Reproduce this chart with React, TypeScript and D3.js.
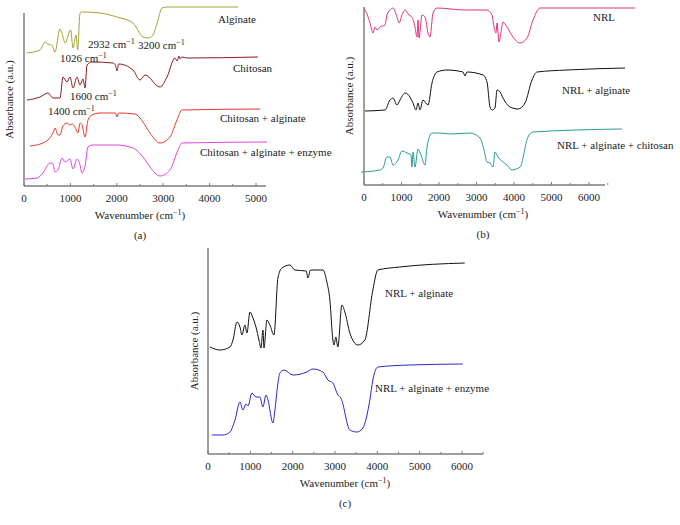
import React from "react";
import * as d3 from "d3";

type P = [number, number];

// Panel (a) spectra: [wavenumber, absorbance a.u.]
const alginate: P[] = [[58,133],[345,136],[453,144],[517,142],[597,141],[668,134],[776,157],[840,149],[884,143],[1006,156],[1056,138],[1121,151],[1157,136],[1207,173],[1271,174],[1638,173],[2004,169],[2349,163],[2564,149],[2672,148],[2780,151],[2888,166],[2974,178],[3082,179],[4612,179]];
const chitosan: P[] = [[65,86],[345,89],[517,93],[625,88],[776,88],[840,109],[927,104],[991,109],[1056,98],[1142,109],[1207,101],[1271,107],[1315,98],[1358,121],[1465,124],[1918,123],[1970,121],[2004,115],[2040,122],[2349,116],[2500,106],[2608,111],[2931,99],[3082,109],[3254,128],[3300,125],[3340,130],[3362,127],[3400,129],[3513,128],[5043,129]];
const chitosanAlginate: P[] = [[129,40],[409,43],[625,53],[668,58],[733,51],[776,51],[840,60],[927,63],[991,61],[1034,62],[1099,59],[1164,53],[1207,63],[1250,61],[1315,49],[1379,66],[1465,71],[1638,73],[1970,73],[2004,69],[2040,73],[2392,72],[2564,64],[2715,53],[2931,43],[3146,49],[3297,66],[3405,76],[5086,77]];
const chitosanAlginateEnzyme: P[] = [[22,7],[280,8],[409,13],[560,23],[625,22],[668,14],[733,16],[819,28],[884,24],[991,27],[1056,17],[1142,27],[1207,21],[1250,13],[1315,20],[1379,39],[1487,41],[2004,41],[2349,38],[2564,29],[2715,19],[2931,10],[3146,16],[3319,36],[3405,43],[5237,44]];

// Panel (b)
const nrl: P[] = [[0,177],[80,171],[160,162],[240,152],[293,158],[347,155],[427,158],[560,160],[613,170],[693,175],[773,177],[880,168],[933,162],[1013,170],[1093,175],[1200,170],[1280,168],[1360,158],[1413,148],[1440,165],[1467,147],[1547,170],[1627,168],[1707,152],[1760,148],[1840,172],[1947,177],[2693,175],[3280,175],[3413,170],[3467,158],[3520,152],[3547,162],[3600,143],[3653,153],[3707,163],[3813,158],[3973,148],[4160,142],[4347,147],[4507,165],[4693,177],[7227,177]];
const nrlAlginateB: P[] = [[27,74],[560,75],[693,85],[773,87],[880,80],[960,85],[1093,92],[1227,88],[1307,82],[1387,75],[1440,82],[1493,75],[1573,85],[1707,80],[1813,102],[1947,113],[2213,115],[2640,113],[2693,109],[2745,113],[3173,110],[3280,103],[3360,78],[3413,75],[3493,77],[3547,95],[3627,93],[3707,87],[3893,78],[4107,76],[4293,82],[4480,105],[4613,113],[5413,115],[6960,117]];
const nrlAlginateChitosan: P[] = [[-80,13],[427,15],[507,17],[613,28],[693,28],[773,20],[907,25],[1013,34],[1147,32],[1253,30],[1280,18],[1307,33],[1360,18],[1440,36],[1520,30],[1627,20],[1680,38],[1813,52],[2027,52],[2293,51],[2827,52],[3093,47],[3200,35],[3280,23],[3360,22],[3440,18],[3493,33],[3573,28],[3813,20],[3947,15],[4160,18],[4373,48],[4507,53],[6880,56]];

// Panel (c)
const nrlAlginateC: P[] = [[47,107],[283,104],[519,107],[590,114],[684,132],[755,127],[802,119],[873,129],[920,121],[991,142],[1062,136],[1133,127],[1204,114],[1251,106],[1298,124],[1322,106],[1392,134],[1463,129],[1558,119],[1652,176],[1746,186],[1935,189],[2053,184],[2320,183],[2360,176],[2420,184],[2714,184],[2808,172],[2879,154],[2950,114],[2974,109],[3021,117],[3068,107],[3162,149],[3233,142],[3351,121],[3540,109],[3705,114],[3894,164],[4012,184],[4531,187],[6065,191]];
const nrlAlginateEnzyme: P[] = [[94,19],[354,19],[519,22],[637,34],[755,52],[826,44],[897,50],[944,48],[1038,61],[1133,57],[1227,57],[1298,47],[1369,59],[1416,54],[1534,31],[1581,44],[1652,71],[1699,81],[1794,84],[2006,79],[2336,82],[2478,85],[2714,82],[2832,74],[2950,71],[3068,59],[3139,56],[3351,24],[3516,22],[3658,26],[3823,54],[3894,74],[4012,87],[4767,89],[6018,90]];

const ticksA = [0, 1000, 2000, 3000, 4000, 5000];
const ticksBC = [0, 1000, 2000, 3000, 4000, 5000, 6000];

const FONT = "'Liberation Serif', 'DejaVu Serif', serif";
const FS = 11;

type Series = { data: P[]; color: string };
type Label = { x: number; y: number; text: string; sup?: boolean };

function Panel(props: {
  x0: number; x1: number; xAxisEnd: number; xMax: number; axisEndVal: number;
  yTop: number; yBottom: number; yMax: number;
  ticks: number[]; series: Series[]; labels: Label[]; caption: string;
  titleX: number; yLabelX: number;
}) {
  const { x0, x1, xAxisEnd, xMax, axisEndVal, yTop, yBottom, yMax, ticks, series, labels, caption, titleX, yLabelX } = props;
  const x = d3.scaleLinear().domain([0, xMax]).range([x0, x1]);
  const y = d3.scaleLinear().domain([0, yMax]).range([yBottom, yTop]);
  const line = d3.line<P>().x(d => x(d[0])).y(d => y(d[1])).curve(d3.curveMonotoneX);
  const minor = d3.range(0, axisEndVal + 1, 500);
  const axisColor = "#7d7d7d";
  return (
    <g>
      {series.map((s, i) => (
        <path key={i} d={line(s.data) || ""} fill="none" stroke={s.color} strokeWidth={1} />
      ))}
      <line x1={x0} x2={x0} y1={yTop} y2={yBottom} stroke={axisColor} strokeWidth={1.5} />
      <line x1={x0} x2={xAxisEnd} y1={yBottom} y2={yBottom} stroke={axisColor} strokeWidth={1.5} />
      {minor.map(t => (
        <line key={t} x1={x(t)} x2={x(t)} y1={yBottom} y2={yBottom - (t % 1000 === 0 ? 3 : 2)} stroke={axisColor} strokeWidth={1} />
      ))}
      {ticks.map(t => (
        <text key={t} x={x(t)} y={yBottom + 16} textAnchor="middle" fontSize={FS} fontFamily={FONT} fill="#222">{t}</text>
      ))}
      <text x={titleX} y={yBottom + 33} textAnchor="middle" fontSize={FS} fontFamily={FONT} fill="#222">
        Wavenumber (cm<tspan dy={-4} fontSize={8}>−1</tspan><tspan dy={4}>)</tspan>
      </text>
      <text x={titleX} y={yBottom + 53} textAnchor="middle" fontSize={FS} fontFamily={FONT} fill="#222">{caption}</text>
      <text transform={`translate(${yLabelX},${(yTop + yBottom) / 2}) rotate(-90)`} textAnchor="middle" fontSize={FS} fontFamily={FONT} fill="#222">Absorbance (a.u.)</text>
      {labels.map((l, i) => (
        <text key={i} x={l.x} y={l.y} fontSize={FS} fontFamily={FONT} fill="#222">
          {l.text}{l.sup ? <tspan dy={-4} fontSize={8}>−1</tspan> : null}
        </text>
      ))}
    </g>
  );
}

export default function App() {
  return (
    <svg width={680} height={525} style={{ position: "absolute", left: 0, top: 0, background: "#fff" }}>
      <Panel x0={24} x1={256} xAxisEnd={266} xMax={5000} axisEndVal={5000}
        yTop={13} yBottom={186} yMax={173} ticks={ticksA} caption="(a)" titleX={140} yLabelX={13}
        series={[
          { data: alginate, color: "#a3a334" },
          { data: chitosan, color: "#8b1c1c" },
          { data: chitosanAlginate, color: "#e6382c" },
          { data: chitosanAlginateEnzyme, color: "#e043e0" },
        ]}
        labels={[
          { x: 218, y: 23, text: "Alginate" },
          { x: 88, y: 48, text: "2932 cm", sup: true },
          { x: 138, y: 49, text: "3200 cm", sup: true },
          { x: 60, y: 62, text: "1026 cm", sup: true },
          { x: 233, y: 72, text: "Chitosan" },
          { x: 70, y: 100, text: "1600 cm", sup: true },
          { x: 48, y: 115, text: "1400 cm", sup: true },
          { x: 220, y: 122, text: "Chitosan + alginate" },
          { x: 200, y: 156, text: "Chitosan + alginate + enzyme" },
        ]}
      />
      <Panel x0={364} x1={589} xAxisEnd={605} xMax={6000} axisEndVal={6500}
        yTop={7} yBottom={185} yMax={178} ticks={ticksBC} caption="(b)" titleX={483} yLabelX={353}
        series={[
          { data: nrl, color: "#e6327e" },
          { data: nrlAlginateB, color: "#111111" },
          { data: nrlAlginateChitosan, color: "#2a9b96" },
        ]}
        labels={[
          { x: 593, y: 21, text: "NRL" },
          { x: 562, y: 94, text: "NRL + alginate" },
          { x: 557, y: 149, text: "NRL + alginate + chitosan" },
        ]}
      />
      <Panel x0={208} x1={462} xAxisEnd={483} xMax={6000} axisEndVal={6500}
        yTop={248} yBottom={454} yMax={206} ticks={ticksBC} caption="(c)" titleX={345} yLabelX={198}
        series={[
          { data: nrlAlginateC, color: "#111111" },
          { data: nrlAlginateEnzyme, color: "#2828cc" },
        ]}
        labels={[
          { x: 385, y: 297, text: "NRL + alginate" },
          { x: 375, y: 392, text: "NRL + alginate + enzyme" },
        ]}
      />
    </svg>
  );
}
